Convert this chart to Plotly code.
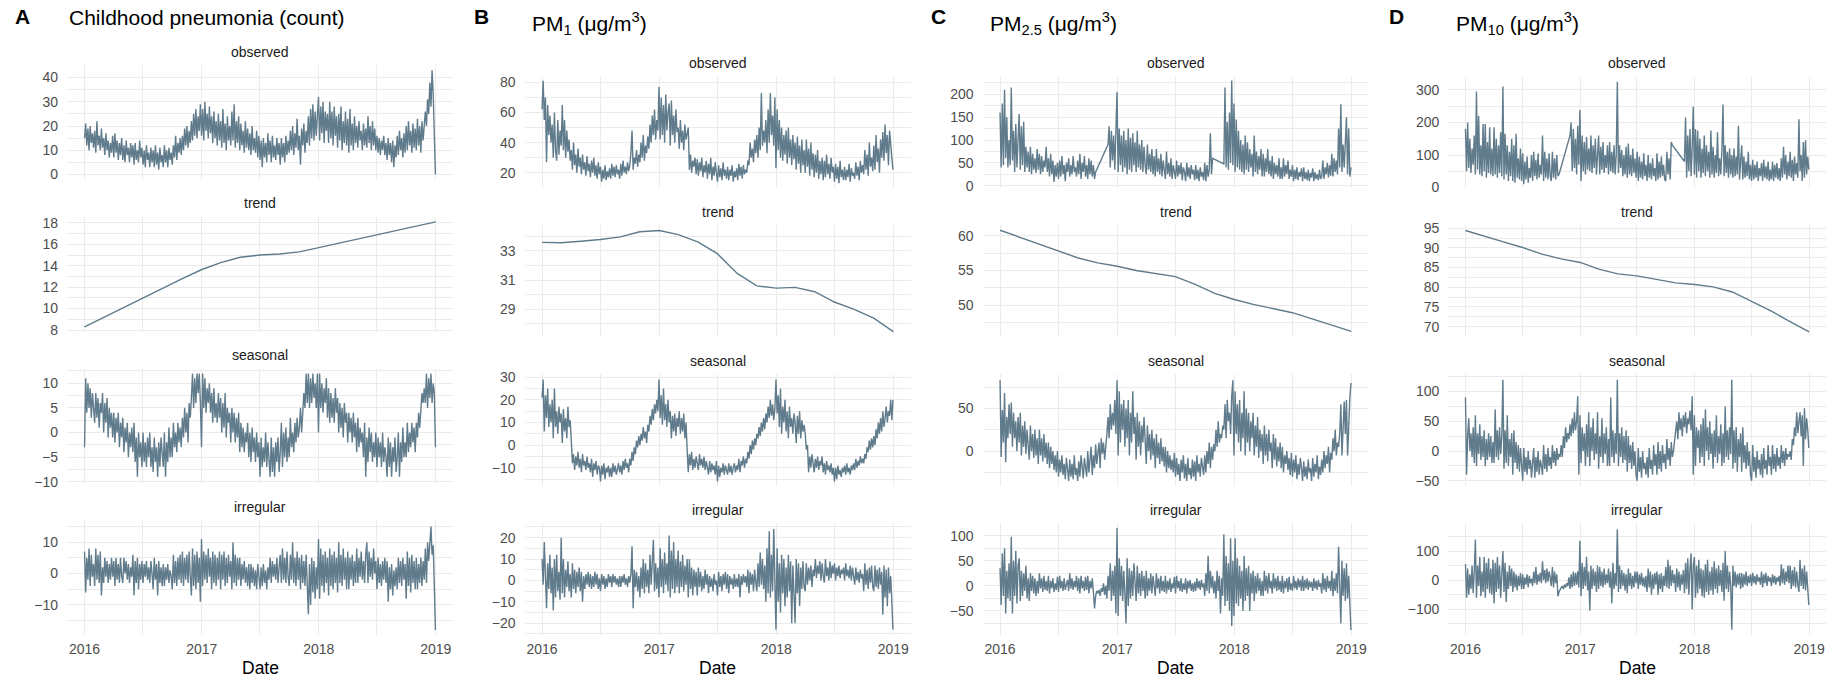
import pandas as pd
import plotly.graph_objects as go

# ---------------- data: half-weekly samples 2016-01-01 .. 2018-12-31 ----
# (months per year hold 9,8,9,8,9,9,9,9,8,9,8,9 samples; one closing value at the end)
pneu_obs = [
    15,21,12,19,10,20,13,17,11, 18,9,22,12,16,10,19,11, 15,8,17,10,14,7,13,9,16, 7,17,9,14,6,13,8,15,
    6,12,5,14,8,11,5,13,7, 12,4,13,6,10,5,14,7,11, 4,10,3,12,6,9,3,11,5, 10,3,12,4,9,2,11,5,8,
    3,12,5,10,3,11,6,9, 4,12,7,16,6,13,9,15,8, 16,10,19,12,20,11,18,13, 22,14,25,16,27,15,24,18,29,
    16,27,14,30,18,25,15,28,17, 24,13,26,15,22,12,25,14, 22,11,27,13,21,10,24,14,20, 12,26,14,29,11,22,13,24,
    10,21,12,18,9,22,11,19,10, 17,8,20,10,15,9,18,7,16, 6,14,3,15,7,13,5,17,8, 14,5,16,7,12,6,15,8,13,
    4,15,7,13,5,16,8,14, 9,18,10,20,8,17,11,23,10, 16,4,19,12,21,9,18,13, 24,12,27,15,29,14,26,16,28,
    32,14,28,17,30,13,26,18,25, 13,30,15,26,12,28,16,24, 11,25,14,28,10,22,13,26,12, 23,9,27,12,21,10,24,13,
    20,11,22,14,18,10,21,12,19, 11,24,13,20,10,22,12,19,10, 16,9,15,8,14,10,16,8,13, 6,15,8,13,5,14,3,12,7,
    16,8,18,10,15,7,17,9, 20,10,22,12,18,9,21,11,19, 10,23,12,20,9,22,14,21, 26,20,31,25,38,28,43,33,18,
    0]
pneu_seas = [
    -3,11,4,10,5,9,3,8,5, 2,8,3,7,1,6,4,8, 0,6,2,7,-1,5,1,4,-1, 4,-2,3,0,4,-3,2,-1,
    3,-4,1,-2,2,-5,0,-3,1, -4,2,-6,-1,-9,0,-5,-2,-7, 0,-6,-2,-7,-1,-5,0,-7,-3, -8,-1,-6,-3,-9,-2,-7,-1,-5,
    -7,0,-9,-2,-6,1,-5,-1, -5,2,-3,0,-4,2,-2,1,-3, 3,-1,5,0,4,-2,6,3, 7,12,5,11,6,12,8,12,6,
    -3,12,5,11,4,9,6,10,4, 8,2,9,3,6,2,8,3, 7,0,6,1,8,-1,5,2,4, -2,5,0,4,-2,3,-1,4,
    -4,2,-3,1,-4,0,-2,2,-5, 0,-6,1,-4,-1,-6,0,-5,-2, -9,-1,-7,-3,-6,0,-7,-2,-5, -9,-1,-8,-3,-9,-2,-6,-1,-8,
    -4,2,-7,0,-5,1,-6,-1, -5,3,-3,0,-4,2,-2,3,-1, 1,5,0,4,8,5,12,6, 12,5,11,6,12,7,10,5,12,
    0,12,5,10,4,9,6,11,3, 9,2,8,3,7,2,9,4, 7,0,6,1,5,-1,6,2,4, -2,4,0,3,-2,4,-1,2,
    -4,3,-3,1,-2,0,-5,2,-9, -1,-6,1,-4,0,-6,-2,-5,0, -7,-1,-5,-2,-7,0,-6,-3,-5, -9,-1,-7,-2,-9,-3,-6,-1,-8,
    -5,0,-9,-2,-6,1,-5,-2, -5,2,-4,0,-3,2,-2,1,-4, 2,-1,4,1,5,8,6,9, 6,12,5,11,7,12,6,10,8,
    -3]
pneu_irr = [
    7,-6,5,-2,8,-4,6,-1,3, -4,8,-2,6,-3,7,-7,2, -3,5,-1,4,-3,3,-2,5,-1, 4,-4,5,-2,3,-3,5,-1,
    -3,5,0,4,-2,3,-3,2,-1, 6,-7,4,-3,5,-5,3,-2,4, -3,3,-1,4,-2,2,-3,4,0, -5,5,-2,3,-7,4,-3,2,-4,
    3,-4,2,-2,3,-3,1,-1, -5,6,-3,4,-4,5,-2,6,-3, 7,-4,5,-2,6,-3,7,-1, -7,8,-4,6,-5,7,-3,5,-9,
    11,-4,7,-2,6,-3,8,-1,5, -5,7,-3,6,-4,5,-2,7, -5,6,-2,7,-4,5,-3,6,-1, 4,-5,10,-3,6,-4,5,-2,
    5,-4,3,-2,4,-3,2,-4,3, -5,3,-3,2,-4,1,-5,3,-2, -5,2,-4,3,-3,1,-5,2,-2, 5,-3,4,-1,3,-2,5,-3,2,
    6,-3,8,-2,5,-3,7,-1, -4,6,-2,10,-3,5,-4,7,-2, 5,-5,6,-3,4,-4,6,-2, -13,3,-10,5,-6,4,-8,2,-5,
    11,-8,8,-4,6,-6,7,-3,5, -7,8,-4,6,-5,7,-3,5, -6,10,-3,6,-4,8,-2,5,-5, 7,-5,5,-2,6,-4,4,-3,
    8,-3,5,-1,7,-2,4,-3,6, 10,-3,7,-1,5,-2,8,0,4, -5,5,-3,3,-4,4,-2,5,-3, 4,-9,2,-5,3,-7,1,-4,2,
    -5,5,-3,4,-4,5,-2,3, -8,7,-4,5,-6,6,-3,4,-5, 5,-5,3,-3,5,-4,4,-2, 8,-3,10,4,12,15,6,9,-4,
    -18]

pm1_obs = [
    62,81,55,70,27,65,45,58,40, 52,30,60,35,28,55,32,48, 38,65,35,55,30,48,34,42,28, 35,22,40,25,32,20,36,24,
    30,19,32,22,27,18,31,21,26, 17,28,20,30,18,25,16,27,19, 24,14,22,16,25,15,21,17,23, 16,26,18,24,17,25,19,22,16,
    26,18,28,20,24,19,27,21, 25,33,48,22,30,26,35,24,32, 27,40,30,45,28,38,33,44, 36,52,40,58,45,62,42,55,48,
    77,42,70,45,65,40,72,48,60, 66,38,68,45,58,40,62,47, 50,36,55,40,48,35,52,42,45, 50,22,32,20,28,24,30,19,
    29,18,27,21,30,17,25,20,28, 16,26,19,30,15,24,18,27,20, 14,25,17,23,15,27,18,22,16, 24,15,22,18,25,14,21,17,23,
    15,26,18,24,16,25,19,22, 20,28,25,40,30,36,27,42,33, 45,30,50,35,73,38,48,40, 55,33,62,40,73,45,58,38,70,
    23,62,35,55,30,50,28,45,32, 48,26,50,30,42,25,45,29, 40,22,44,26,38,20,42,25,35, 20,42,24,36,18,40,22,33,
    17,32,20,35,16,28,19,30,15, 28,17,32,19,26,16,30,20,24, 14,26,16,24,13,28,17,22,15, 24,15,22,17,26,14,23,18,20,
    16,27,18,24,15,28,20,25, 19,35,22,32,18,40,24,30,21, 38,22,45,27,36,20,42,30, 47,28,52,33,45,25,48,35,30,
    22]
pm1_seas = [
    21,29,6,22,12,25,8,18,10, 20,3,25,8,15,5,17,10, 14,1,16,6,12,3,17,8,11, 2,-8,-4,-11,-5,-9,-3,-10,
    -6,-12,-4,-9,-7,-11,-5,-10,-8, -12,-6,-14,-8,-11,-7,-13,-9,-10, -16,-9,-13,-8,-15,-10,-12,-9,-14, -10,-14,-8,-12,-9,-13,-11,-8,-12,
    -9,-13,-7,-11,-6,-10,-8,-12, -6,-9,-3,-7,-1,-4,2,-1,4, 0,5,2,8,3,6,1,9, 6,13,9,16,11,18,14,20,15,
    29,12,22,9,25,11,18,8,20, 10,15,3,13,6,14,4,12, 8,15,5,12,6,14,3,10,-2, -12,-4,-9,-3,-11,-6,-10,-5,
    -8,-11,-4,-9,-6,-10,-5,-11,-7, -10,-13,-7,-12,-8,-11,-9,-13,-7, -16,-9,-14,-10,-12,-8,-13,-9,-11, -13,-8,-12,-9,-13,-10,-8,-12,-9,
    -11,-6,-12,-7,-9,-5,-10,-6, -8,-3,-6,0,-4,2,-2,3,0, 5,3,8,4,10,6,12,7, 14,10,17,12,20,13,18,11,16,
    29,14,22,8,25,5,17,10,20, 6,15,3,17,8,12,5,14, 10,1,13,5,15,3,11,6,9, 5,-2,0,-12,-5,-10,-4,-9,
    -12,-6,-10,-5,-11,-7,-9,-5,-12, -8,-13,-7,-11,-9,-12,-8,-13,-10, -16,-10,-15,-9,-13,-11,-14,-10,-12, -9,-13,-8,-12,-10,-13,-9,-11,-8,
    -11,-6,-10,-7,-9,-5,-8,-6, -8,-4,-6,-1,-3,2,-2,3,-1, 4,0,7,3,10,5,12,6, 15,8,12,17,10,15,13,20,11,
    20]
pm1_irr = [
    10,-2,18,3,-13,8,-4,12,-6, 6,-14,10,-8,12,-5,4,-9, 20,-6,10,-8,5,-3,9,-5,3, -8,8,-4,5,-6,4,-3,6,
    -5,4,-10,2,-4,3,-2,4,-3, 3,-4,2,-3,4,-2,3,-4,1, -5,3,-2,2,-4,1,-3,3,-1, 2,-3,3,-1,2,-2,1,-3,2,
    -3,2,-1,3,-2,1,-3,2, -1,3,16,-13,5,-3,4,-5,2, -8,6,-4,10,-6,8,-3,5, -6,12,-2,9,19,-5,8,-4,6,
    -8,15,-3,10,-6,13,-2,8,-5, 21,-8,14,-4,18,-6,10,-3, 14,-6,9,-3,12,-5,7,-2,10, -8,10,-4,6,-7,5,-3,4,
    -7,6,-3,4,-5,2,-4,5,-2, 3,-6,2,-3,1,-5,3,-2,0, -7,4,-3,2,-5,3,-2,4,-4, 3,-6,2,-2,1,-4,3,-3,1,
    -3,3,-8,2,-2,3,-1,2, -3,5,-6,4,-2,3,-5,5,-1, -5,8,-3,13,-2,10,-4,7, -10,15,-6,23,-8,12,-5,24,-9,
    -23,15,-10,8,-15,12,-6,10,-12, 6,-8,12,-5,9,-20,7,-10, -20,10,-6,8,-12,6,-4,9,-3, -5,8,-2,6,0,7,-3,5,
    2,10,1,7,3,9,0,8,2, -1,10,2,6,0,9,1,7,3, 8,0,6,2,7,1,5,3,6, 0,8,2,5,1,7,0,6,2,
    -2,6,0,4,-1,5,1,3, -5,8,-2,5,-4,6,-1,7,-3, -5,7,-3,5,-4,6,-2,4, -16,7,-8,5,-12,6,-6,2,-10,
    -23]

pm25_obs = [
    160,40,180,45,210,60,150,40,100, 45,215,55,120,30,135,40,100, 157,35,130,45,140,30,85,40,75, 30,85,25,70,35,60,28,80,
    35,70,25,65,30,55,40,85,30, 60,20,70,25,55,8,45,20,50, 15,55,20,65,25,45,10,50,30, 60,20,45,25,65,30,40,20,55,
    25,70,15,50,30,65,20,45, 15,60,25,55,20,45,15,30,None, None,None,None,None,None,None,None,None, None,90,130,40,120,55,110,35,125,
    205,30,125,45,110,30,120,40,100, 25,125,35,105,30,115,45,95, 30,120,40,90,35,100,30,85,45, 25,90,35,70,30,80,25,65,
    20,80,30,60,25,70,20,55,35, 15,75,25,50,20,60,15,45,30, 15,55,20,45,25,50,12,40,30, 10,50,20,40,15,45,25,35,12,
    45,15,35,10,40,20,30,12, 50,10,45,20,35,115,25,60,None, None,None,None,None,None,None,None,None, 48,215,40,140,35,160,50,230,45,
    180,30,145,40,120,35,100,30,90, 25,110,35,95,30,80,40,70, 20,110,30,75,25,65,35,80,20, 70,20,60,30,80,25,55,20,
    65,15,50,25,45,20,60,15,40, 15,60,20,45,25,55,15,35,20, 45,10,35,15,40,12,30,20,38, 10,40,15,30,12,35,10,28,18,
    38,10,30,15,25,12,35,15, 20,55,15,40,25,50,18,45,22, 70,20,60,30,55,25,125,40, 178,30,90,40,110,150,25,125,20,
    40]
pm25_seas = [
    83,-7,48,10,68,-13,40,15,55, 20,57,5,45,15,35,0,40, 10,45,-5,30,5,35,-3,25,8, -10,30,0,20,-8,25,-5,15,
    -15,25,-5,15,-12,20,-8,10,-15, 10,-20,5,-15,0,-22,-5,-25,0, -30,-10,-25,-5,-28,-15,-33,-8,-20, -35,-10,-30,-15,-33,-5,-28,-20,-35,
    -12,-30,-5,-25,-32,-8,-20,-30, 0,-25,-10,5,-28,-5,-20,8,-15, -5,10,-20,15,-3,10,-10,12, 20,40,15,55,25,45,30,60,20,
    83,-5,70,10,55,25,60,5,50, 15,60,-5,45,10,70,20,40, -10,45,5,35,-5,30,10,40,0, -15,30,0,20,-10,25,-5,15,
    -20,20,-8,10,-15,15,-12,5,-18, 5,-25,0,-20,-5,-22,-10,-25,-2, -30,-8,-28,-15,-35,-10,-25,-5,-32, -15,-35,-8,-28,-20,-33,-10,-30,-12,
    -35,-5,-25,-15,-30,-8,-20,-28, -5,-25,0,-15,10,-20,5,-10,8, 0,25,5,35,10,20,15,30, 25,55,15,60,35,45,20,65,83,
    -5,70,20,55,10,60,0,45,15, 70,-5,50,10,45,0,35,15, 45,-5,30,5,40,-8,25,0,20, -15,30,-5,20,-12,25,0,10,
    -20,20,-10,15,-18,5,-12,10,-20, 5,-25,-5,-15,0,-22,-8,-28,-2, -30,-10,-25,-5,-33,-15,-28,-8,-20, -35,-12,-30,-18,-33,-10,-25,-20,-35,
    -8,-30,-15,-25,-5,-33,-18,-28, -10,-25,0,-20,-5,-15,5,-25,-2, -10,15,0,25,-5,10,5,20, 55,-5,40,58,20,60,-5,45,62,
    80]
pm25_irr = [
    35,-38,65,-20,75,-55,30,-25,45, -30,98,-55,50,-20,70,-35,40, 55,-30,30,-20,25,-10,40,-25,15, -30,25,-10,20,-15,15,-20,10,
    -15,25,-5,15,-12,20,-8,10,-10, 20,-15,10,-5,15,-12,5,-8,18, -12,20,-5,10,-10,15,-8,5,12, -10,25,-5,15,-8,10,-3,20,-10,
    15,-15,20,-5,10,-10,18,-8, 20,-15,10,-5,15,-12,-45,-20,-10, -15,-8,-20,-5,-12,5,-18,0, -25,20,-10,45,-30,30,-20,40,-55,
    115,-60,55,-20,40,-30,30,-15,-75, 55,-40,35,-25,30,-20,45,-10, -30,40,-15,25,-20,30,-10,20,-25, 30,-20,15,-10,25,-15,20,-5,
    -20,25,-5,15,-15,20,-10,10,-12, 20,-15,10,-8,15,-12,5,-5,18, -15,20,-5,10,-10,15,-12,5,-8, 15,-15,10,-5,12,-10,5,-12,8,
    -10,15,-5,10,-8,12,-3,5, -20,25,-10,60,-15,30,-5,20,-15, 10,-25,30,-10,20,-55,15,-20, 103,-40,60,-30,45,-50,95,-80,50,
    -60,95,-35,55,-40,40,-25,30,-50, 60,-30,35,-20,40,-50,25,-15, 30,-30,20,-15,25,-10,15,-20,10, -20,30,-10,20,-15,25,-5,10,
    -15,25,-5,15,-10,20,-8,10,-12, 20,-15,10,-5,15,-12,18,-8,5, -10,20,-5,10,-8,15,-3,12,-10, 20,-10,12,-5,15,-8,10,-3,8,
    -10,15,-5,10,-8,12,-2,5, -15,25,-8,15,-12,20,-5,10,-10, 30,-20,15,-10,25,-15,78,-20, -75,50,-20,35,-30,45,-25,20,-40,
    -88]

pm10_obs = [
    180,50,200,60,150,45,120,70,160, 40,295,55,220,40,130,35,195, 50,195,30,140,45,185,40,120,35, 185,40,150,30,130,45,170,35,
    310,25,165,40,130,20,110,35,150, 20,130,15,165,30,90,25,120,20, 105,10,80,25,95,15,60,30,100, 20,110,35,85,25,105,30,70,40,
    160,20,110,30,90,25,105,35, 20,110,30,90,25,100,35,40,None, None,None,None,None,None,None,None,None, 160,200,50,180,60,150,40,190,70,
    238,20,160,50,140,40,155,55,120, 50,160,45,130,60,150,40,110, 160,40,125,55,140,45,100,60,130, 40,140,50,110,45,130,40,100,
    325,45,130,60,115,35,100,40,125, 30,135,40,100,35,120,45,90,30, 110,20,95,30,80,25,105,35,70, 20,100,30,75,25,90,35,60,20,
    105,25,80,30,95,35,70,25, 20,110,40,90,25,140,130,None,None, None,None,None,None,None,None,None,None, 80,215,30,160,50,180,35,120,248,
    40,180,30,175,50,150,30,120,45, 160,35,130,50,110,30,175,40, 125,30,100,45,170,35,90,40,115, 255,35,130,45,110,30,120,40,
    100,30,120,35,95,40,190,25,80, 130,25,95,30,80,35,110,25,70, 20,85,25,70,30,80,20,60,35, 75,20,85,30,65,25,80,20,55,
    25,80,20,70,30,75,25,60, 20,90,30,125,40,100,25,80,35, 110,30,85,20,95,40,75,30, 210,50,100,20,140,30,145,40,95,
    55]
pm10_seas = [
    90,-40,25,55,0,30,-10,40,-20, 60,-25,30,-5,45,-15,25,-10, 35,-25,20,-15,30,-10,25,-20,15, -20,70,-10,35,-15,40,-5,25,
    120,-30,35,-20,60,-25,20,-10,30, -40,35,-20,15,-30,10,-35,5,-25, -50,5,-35,-10,-40,0,-30,-15,-45, -20,5,-45,-10,-35,0,-40,-15,-25,
    -40,10,-30,-5,-35,5,-25,-10, -30,10,-20,0,-25,5,-15,-5,-10, 10,-10,25,5,40,15,30,20, 45,25,55,30,65,35,50,92,-40,
    60,-20,40,0,30,-25,45,-10,65, -25,40,0,55,-15,30,-5,65, -30,25,-10,55,-20,30,-5,40,-25, 20,-25,90,-10,35,-20,30,-5,
    120,-25,30,-10,40,-20,25,-15,35, -35,25,-20,10,-30,15,-25,0,-40, -50,5,-35,-10,-45,0,-30,-20,-40, -10,-45,5,-30,-15,-40,10,-25,-5,
    -40,15,-30,0,-35,10,-20,-5, -30,20,-15,5,-25,15,-10,0,20, 30,50,20,65,35,55,25,60, 40,65,30,55,45,68,35,92,-40,
    60,-25,40,5,35,-20,45,-10,55, -25,70,0,40,-15,50,-5,30, -30,35,-10,60,-20,25,-5,45,-25, 30,-20,75,-10,35,-15,40,-5,
    120,-30,35,-20,40,-35,20,-10,30, -35,40,-20,10,-30,15,-25,0,-40, -50,10,-35,-10,-45,0,-30,-15,-40, -5,-45,5,-30,-15,-40,10,-25,-10,
    -40,10,-30,-5,-35,5,-25,-10, -30,10,-20,0,-25,5,-15,-5,-10, 0,-15,20,10,40,25,65,30, 50,65,25,60,-25,72,20,55,35,
    5]
pm10_irr = [
    55,-60,40,-50,20,-30,50,-45,30, 140,-60,50,-20,80,-55,30,-40, 80,-60,60,-30,75,-45,40,-50,70, -80,60,-40,80,-30,50,-60,30,
    100,-40,60,-75,30,-30,50,-20,40, -40,30,-25,20,-35,15,-20,25,-30, 20,-30,10,-15,20,-25,15,-10,5, -20,30,-10,45,-15,20,-5,25,-10,
    65,0,35,-10,40,-5,30,10, -20,45,-25,30,-10,20,-55,-40,-30, -25,-20,-30,-15,-25,-10,-20,10, -30,20,-25,30,-20,25,-15,30,-25,
    135,-55,60,-30,45,-20,80,-35,30, -105,50,-30,40,-20,30,-40,50, -30,45,-20,30,-25,40,-15,20,-10, 40,-25,30,-80,60,-30,25,-20,
    175,-40,50,-30,35,-20,25,-35,20, -45,40,-20,25,-30,15,-25,30,-10, 30,-30,20,-15,25,-20,10,-25,15, -40,40,-25,30,-50,20,-30,25,-15,
    30,-50,20,-30,25,-40,15,-20, 45,-25,70,-30,50,-20,35,-10,20, -40,40,-25,30,-35,20,-15,35, -45,60,-30,75,-50,40,92,-100,50,
    80,-60,50,-45,70,-30,40,-55,35, -60,55,-40,70,-50,30,-35,45, -50,65,-30,40,-45,50,-20,35,-40, 60,-70,100,-30,50,-40,30,-20,
    -170,50,-20,30,-25,20,-15,25,-30, 25,-25,20,-15,30,-20,15,-10,20, -20,25,-10,15,-15,20,-5,10,-15, 30,-25,20,-10,25,-20,15,-5,10,
    -20,20,-10,15,-15,10,-5,15, -20,55,-10,40,-15,30,-5,50,-10, 50,-30,35,-20,45,-25,30,-15, -40,70,-20,40,-30,50,-35,30,-20,
    -85]

# trends, sampled every two months (2016-01 .. 2019-01)
pneu_trend = [8.3,9.2,10.1,11.0,11.9,12.8,13.65,14.3,14.8,15.0,15.1,15.3,15.7,16.1,16.5,16.9,17.3,17.7,18.1]
pm1_trend = [33.57,33.55,33.65,33.77,33.95,34.3,34.38,34.1,33.6,32.8,31.45,30.6,30.45,30.5,30.2,29.5,29.0,28.4,27.48]
pm25_trend = [60.8,59.8,58.8,57.8,56.8,56.1,55.6,55.0,54.5,54.1,53.0,51.7,50.8,50.1,49.5,48.9,48.0,47.1,46.2]
pm10_trend = [94.4,92.9,91.5,90.1,88.4,87.2,86.3,84.6,83.4,82.9,81.9,81.1,80.7,80.1,78.8,76.4,74.0,71.3,68.7]

components = ["observed", "trend", "seasonal", "irregular"]
titles = ["Childhood pneumonia (count)",
          "PM<sub>1</sub> (μg/m<sup>3</sup>)",
          "PM<sub>2.5</sub> (μg/m<sup>3</sup>)",
          "PM<sub>10</sub> (μg/m<sup>3</sup>)"]
letters = ["A", "B", "C", "D"]

series = [
    [pneu_obs, pneu_trend, pneu_seas, pneu_irr],
    [pm1_obs, pm1_trend, pm1_seas, pm1_irr],
    [pm25_obs, pm25_trend, pm25_seas, pm25_irr],
    [pm10_obs, pm10_trend, pm10_seas, pm10_irr],
]
trend_dates = pd.date_range("2016-01-01", "2019-01-01", freq="2MS")

# ---------------- layout (pixel geometry) ----------------
W, H = 1846, 681
col_px = [(67, 453), (524.5, 910.5), (982.5, 1368.5), (1448.3, 1826)]
rows_A = [(65, 179.75), (216.75, 331.5), (368.5, 483.25), (520.25, 635)]
rows_B = [(76.5, 188.4), (225.4, 337.3), (374.3, 486.1), (523.1, 635)]
row_px = [rows_A, rows_B, rows_B, rows_B]

yranges = [
    [(-2.2, 45.2), (7.86, 18.58), (-10.3, 13.0), (-19.6, 17.0)],
    [(9.6, 83.9), (27.09, 34.73), (-18.1, 31.3), (-25.5, 26.8)],
    [(-5.9, 239), (45.35, 61.5), (-41, 90), (-98, 125)],
    [(-2.5, 341), (67.3, 95.7), (-59, 129), (-188, 196)],
]
ydticks = [
    [(0, 10), (0, 2), (0, 5), (0, 10)],
    [(0, 20), (1, 2), (0, 10), (0, 10)],
    [(0, 50), (0, 5), (0, 50), (0, 50)],
    [(0, 100), (0, 5), (0, 50), (0, 100)],
]

start, end = pd.Timestamp("2016-01-01"), pd.Timestamp("2018-12-31")
pad = (end - start) * 0.05
xrange = [str(start - pad), str(end + pad)]

LINE = "#607B8B"
GRID = "#EBEBEB"
FONT = "Liberation Sans, Arial, sans-serif"

fig = go.Figure()
annotations = []
n = 0
for c in range(4):
    x0, x1 = col_px[c]
    for r in range(4):
        n += 1
        y0, y1 = row_px[c][r]
        xa = "xaxis" if n == 1 else f"xaxis{n}"
        ya = "yaxis" if n == 1 else f"yaxis{n}"
        xref = "x" if n == 1 else f"x{n}"
        yref = "y" if n == 1 else f"y{n}"
        vals = series[c][r]
        xs = trend_dates if r == 1 else pd.date_range(start, end, periods=len(vals))
        fig.add_trace(go.Scatter(
            x=xs, y=vals, mode="lines", xaxis=xref, yaxis=yref,
            line=dict(color=LINE, width=1.4), connectgaps=True,
            showlegend=False, hoverinfo="skip"))
        fig.layout[xa] = dict(
            domain=[x0 / W, x1 / W], anchor=yref, type="date", range=xrange,
            tick0="2016-01-01", dtick="M12", tickformat="%Y", automargin=False,
            showticklabels=(r == 3), ticks="", ticklabelstandoff=4,
            tickfont=dict(family=FONT, size=14, color="#4D4D4D"),
            showgrid=True, gridcolor=GRID, gridwidth=1.3,
            minor=dict(dtick="M6", tick0="2016-01-01", showgrid=True, gridcolor=GRID, gridwidth=0.7),
            zeroline=False, showline=False, fixedrange=True)
        t0, dt = ydticks[c][r]
        fig.layout[ya] = dict(
            domain=[1 - y1 / H, 1 - y0 / H], anchor=xref, range=list(yranges[c][r]),
            tick0=t0, dtick=dt, ticks="", ticklabelstandoff=8, automargin=False,
            tickfont=dict(family=FONT, size=14, color="#4D4D4D"),
            showgrid=True, gridcolor=GRID, gridwidth=1.3,
            minor=dict(tick0=t0, dtick=dt / 2, showgrid=True, gridcolor=GRID, gridwidth=0.7),
            zeroline=False, showline=False, fixedrange=True)
        annotations.append(dict(
            text=components[r], x=(x0 + x1) / 2 / W, y=1 - (y0 - 13.5) / H,
            xref="paper", yref="paper", xanchor="center", yanchor="middle",
            showarrow=False, font=dict(family=FONT, size=14, color="#1A1A1A")))
    annotations.append(dict(
        text="Date", x=(x0 + x1) / 2 / W, y=1 - 668 / H, xref="paper", yref="paper",
        xanchor="center", yanchor="middle", showarrow=False,
        font=dict(family=FONT, size=17.5, color="#000000")))

letter_x = [13, 472, 929, 1387]
title_x = [67, 530, 988, 1454]
title_y = [18, 23, 23, 23]
for c in range(4):
    annotations.append(dict(
        text=f"<b>{letters[c]}</b>", x=letter_x[c] / W, y=1 - 17 / H, xref="paper", yref="paper",
        xanchor="left", yanchor="middle", showarrow=False,
        font=dict(family=FONT, size=21, color="#000000")))
    annotations.append(dict(
        text=titles[c], x=title_x[c] / W, y=1 - title_y[c] / H, xref="paper", yref="paper",
        xanchor="left", yanchor="middle", showarrow=False,
        font=dict(family=FONT, size=21, color="#000000")))

fig.update_layout(
    width=W, height=H, margin=dict(l=0, r=0, t=0, b=0, pad=0, autoexpand=False),
    paper_bgcolor="white", plot_bgcolor="white",
    annotations=annotations, showlegend=False)

fig.write_html("out.html", config={"displayModeBar": False},
               post_script="document.body.style.margin='0px';document.body.style.overflow='hidden';")
